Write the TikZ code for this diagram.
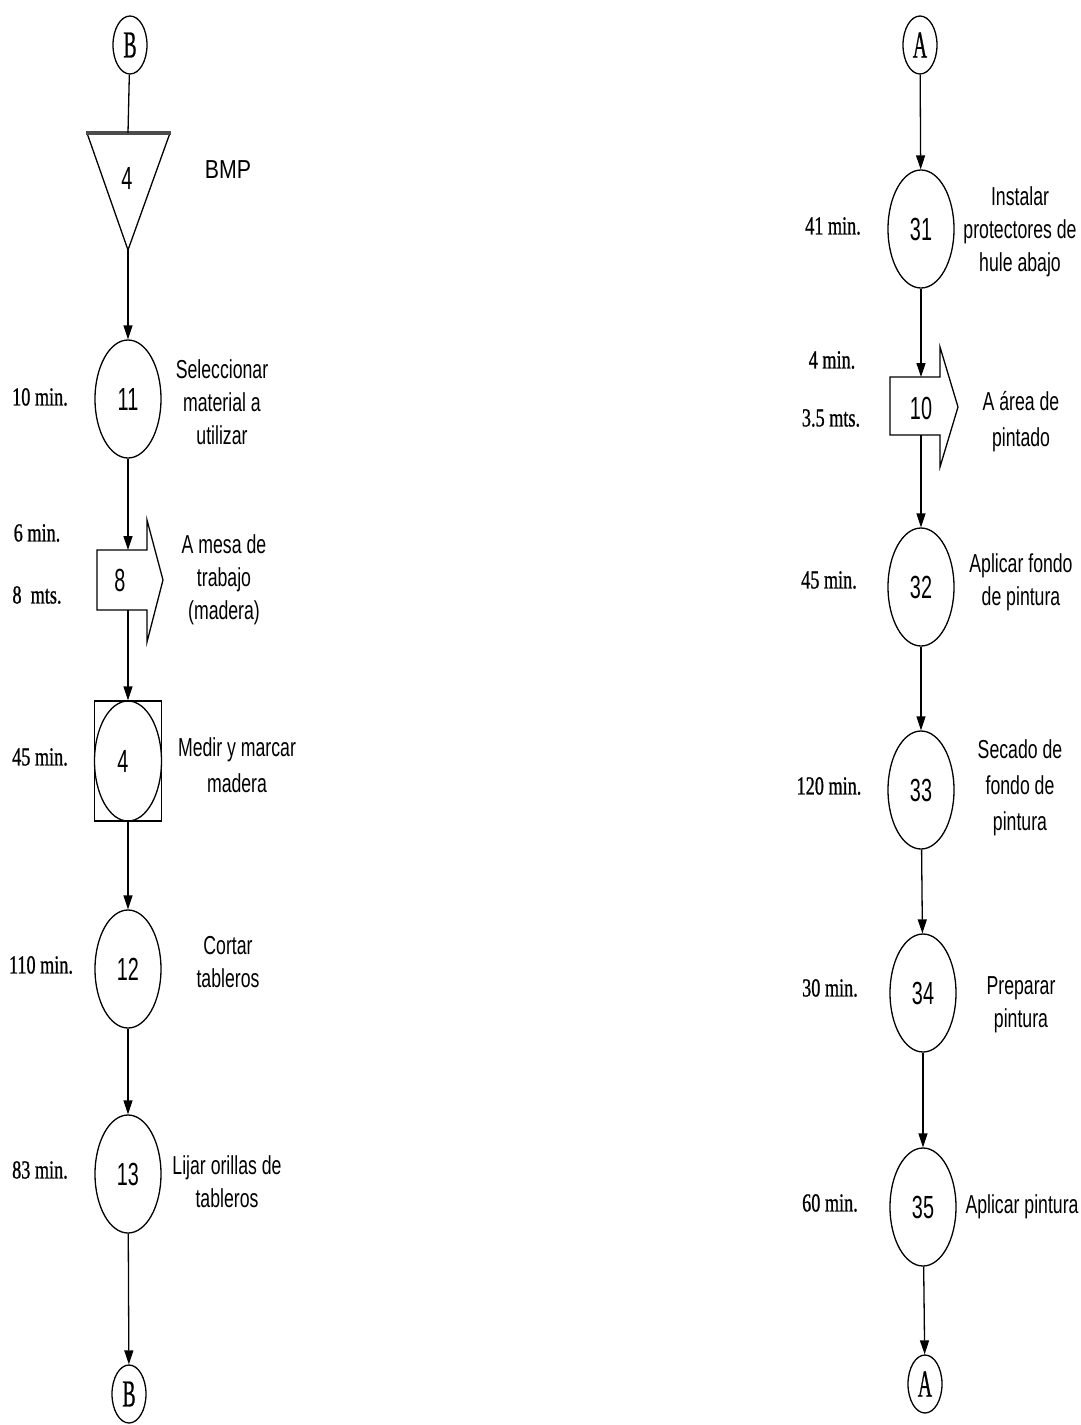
\documentclass[tikz,border=0pt]{standalone}
\usepackage{fontspec}
\usetikzlibrary{shapes.geometric,arrows.meta}
\newfontfamily\nsans[FakeStretch=0.68]{Liberation Sans}
\newfontfamily\nnum[FakeStretch=0.62]{Liberation Sans}
\newfontfamily\nserif[FakeStretch=0.7,FakeBold=0.8]{Liberation Serif}
\newfontfamily\cserif[FakeStretch=0.52,FakeBold=0.6]{Liberation Serif}
\newfontfamily\bsans[FakeStretch=0.82]{Liberation Sans}
\begin{document}
\begin{tikzpicture}[x=1pt,y=-1pt,
  line width=1.3pt,
  op/.style={ellipse,draw,minimum width=66pt,minimum height=118pt,inner sep=0pt,font=\nnum\fontsize{32}{32}\selectfont},
  conn/.style={ellipse,draw,minimum width=34pt,minimum height=58pt,inner sep=0pt,font=\cserif\fontsize{38}{38}\selectfont},
  desc/.style={align=center,inner sep=0pt,font=\nsans\fontsize{26}{33}\selectfont},
  tlabel/.style={inner sep=0pt,font=\nserif\fontsize{26}{26}\selectfont},
  num/.style={inner sep=0pt,font=\nnum\fontsize{32}{32}\selectfont},
  flow/.style={-{Triangle[length=14pt,width=9pt]}},
]
\useasboundingbox[fill=white] (0,0) rectangle (1081,1425);

% ---------------- left column ----------------
\node[conn] (Btop) at (130,45) {B};
\coordinate (tritop) at (128,133);
\coordinate (triapex) at (128,250);
\draw (87,133) -- (triapex) -- (170,133);
\draw[line width=3.5pt,black!70] (86,133) -- (171,133);
\node[num] (t4) at (127,178) {4};
\node[inner sep=0pt,font=\bsans\fontsize{26}{26}\selectfont] (bmp) at (228,170) {BMP};

\node[op] (c11) at (128,399) {11};
\node[tlabel] (l11) at (40,397) {10 min.};
\node[desc] (d11) at (222,402) {Seleccionar\\material a\\utilizar};

\draw (97,550) -- (147,550) -- (147,520) -- (163,580) -- (147,642) -- (147,610) -- (97,610) -- cycle;
\coordinate (t8top) at (128,550);
\coordinate (t8bot) at (128,610);
\node[num] (t8) at (120,580) {8};
\node[tlabel] (l8a) at (37,533) {6 min.};
\node[tlabel] (l8b) at (37,595) {8\ \ mts.};
\node[desc] (d8) at (224,580) {A mesa de\\trabajo\\(madera)};

\node[draw,rectangle,minimum width=67pt,minimum height=120pt,inner sep=0pt] (b4) at (128,761) {};
\draw (b4.center) ellipse [x radius=33.5pt, y radius=60pt];
\node[num] (n4) at (123,761) {4};
\node[tlabel] (l4) at (40,757) {45 min.};
\node[desc] (d4) at (237,765) {Medir y marcar\\[3pt]madera};

\node[op] (c12) at (128,969) {12};
\node[tlabel] (l12) at (41,965) {110 min.};
\node[desc] (d12) at (228,962) {Cortar\\tableros};

\node[op] (c13) at (128,1174) {13};
\node[tlabel] (l13) at (40,1170) {83 min.};
\node[desc] (d13) at (227,1182) {Lijar orillas de\\tableros};

\node[conn] (Bbot) at (129,1394) {B};

\draw (Btop) -- (tritop);
\draw[flow] (triapex) -- (c11);
\draw[flow] (c11) -- (t8top);
\draw[flow] (t8bot) -- (b4);
\draw[flow] (b4) -- (c12);
\draw[flow] (c12) -- (c13);
\draw[flow] (c13) -- (Bbot);

% ---------------- right column ----------------
\node[conn] (Atop) at (920,45) {A};

\node[op] (c31) at (921,229) {31};
\node[tlabel] (l31) at (833,226) {41 min.};
\node[desc] (d31) at (1020,232) {Instalar\\protectores de\\hule abajo};

\draw (890,377) -- (940,377) -- (940,347) -- (958,407) -- (940,467) -- (940,435) -- (890,435) -- cycle;
\coordinate (t10top) at (921,377);
\coordinate (t10bot) at (921,435);
\node[num] (t10) at (921,408) {10};
\node[tlabel] (l10a) at (832,360) {4 min.};
\node[tlabel] (l10b) at (831,418) {3.5 mts.};
\node[desc] (d10) at (1021,422) {A área de\\[3pt]pintado};

\node[op] (c32) at (921,587) {32};
\node[tlabel] (l32) at (829,580) {45 min.};
\node[desc] (d32) at (1021,582) {Aplicar fondo\\de pintura};

\node[op] (c33) at (921,790) {33};
\node[tlabel] (l33) at (829,786) {120 min.};
\node[desc] (d33) at (1020,788) {Secado de\\[3pt]fondo de\\[3pt]pintura};

\node[op] (c34) at (923,993) {34};
\node[tlabel] (l34) at (830,988) {30 min.};
\node[desc] (d34) at (1021,1005) {Preparar\\pintura};

\node[op] (c35) at (923,1207) {35};
\node[tlabel] (l35) at (830,1203) {60 min.};
\node[desc] (d35) at (1022,1207) {Aplicar pintura};

\node[conn] (Abot) at (925,1384) {A};

\draw[flow] (Atop) -- (c31);
\draw[flow] (c31) -- (t10top);
\draw[flow] (t10bot) -- (c32);
\draw[flow] (c32) -- (c33);
\draw[flow] (c33) -- (c34);
\draw[flow] (c34) -- (c35);
\draw[flow] (c35) -- (Abot);
\end{tikzpicture}
\end{document}
